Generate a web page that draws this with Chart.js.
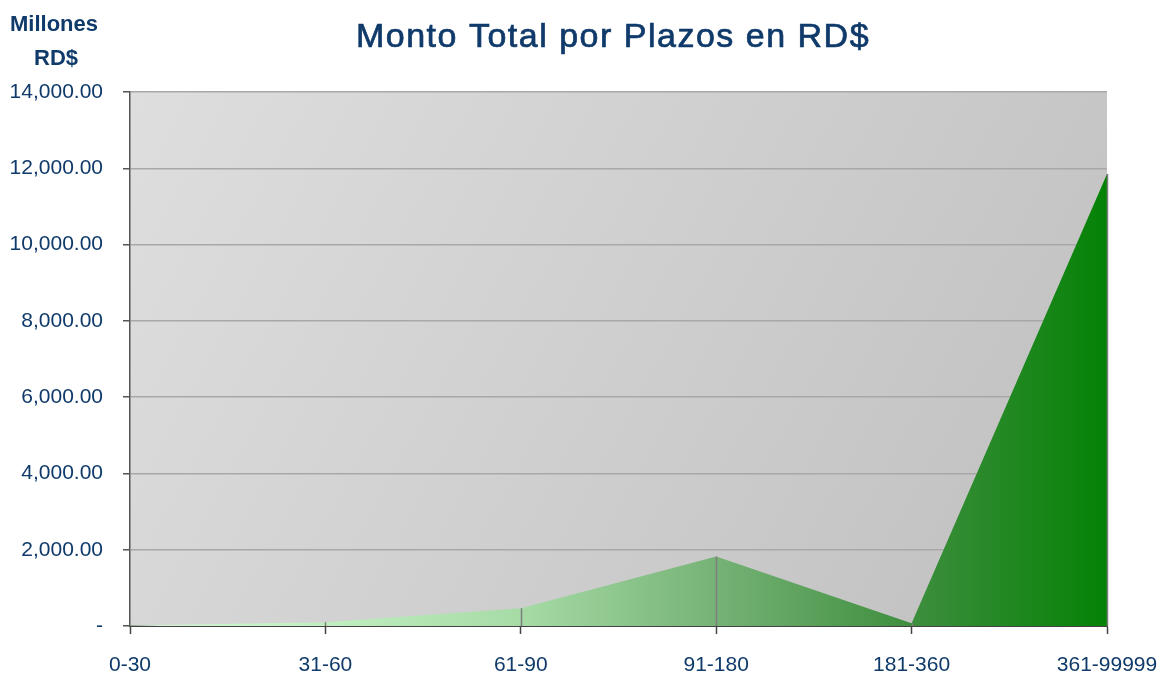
<!DOCTYPE html>
<html lang="es">
<head>
    <meta charset="UTF-8">
    <title>Monto Total por Plazos en RD$</title>
    <style>
        body {
            margin: 0;
            padding: 0;
            background-color: #ffffff;
        }
        #wrap {
            width: 1163px;
            height: 676px;
        }
    </style>
</head>
<body>
    <div id="wrap">
        <canvas id="plazosChart" width="1163" height="676"></canvas>
    </div>

    <script src="https://cdn.jsdelivr.net/npm/chart.js"></script>
    <script>
        // Datos (millones RD$)
        const plazos = ['0-30', '31-60', '61-90', '91-180', '181-360', '361-99999'];
        const montos = [10, 100, 465, 1820, 75, 11850];
        const yTicks = [0, 2000, 4000, 6000, 8000, 10000, 12000, 14000];

        const azul = '#0f3a6a';
        const fuente = "Arial, 'Liberation Sans', sans-serif";

        function formatoMonto(v) {
            if (v === 0) return '-';
            return v.toLocaleString('en-US', { minimumFractionDigits: 2, maximumFractionDigits: 2 });
        }

        // fondo gris degradado del area de trazado
        const fondoPlot = {
            id: 'fondoPlot',
            beforeDraw(chart) {
                const { ctx, chartArea: a } = chart;
                const g = ctx.createLinearGradient(a.left, a.top, a.right, a.bottom);
                g.addColorStop(0, '#dedede');
                g.addColorStop(1, '#bfbfbf');
                ctx.save();
                ctx.fillStyle = g;
                ctx.fillRect(a.left, a.top, a.right - a.left, a.bottom - a.top);
                ctx.restore();
            }
        };

        // lineas de caida desde cada punto al eje
        const lineasCaida = {
            id: 'lineasCaida',
            afterDatasetsDraw(chart) {
                const { ctx, chartArea: a } = chart;
                const puntos = chart.getDatasetMeta(0).data;
                ctx.save();
                ctx.strokeStyle = '#7d7d7d';
                ctx.lineWidth = 1.5;
                puntos.forEach(p => {
                    ctx.beginPath();
                    ctx.moveTo(Math.round(p.x) + 0.5, p.y);
                    ctx.lineTo(Math.round(p.x) + 0.5, a.bottom);
                    ctx.stroke();
                });
                ctx.restore();
            }
        };

        // titulo y rotulo de unidades
        const textos = {
            id: 'textos',
            afterDraw(chart) {
                const ctx = chart.ctx;
                ctx.save();
                ctx.fillStyle = azul;
                ctx.strokeStyle = azul;
                ctx.textAlign = 'center';
                ctx.textBaseline = 'alphabetic';
                ctx.font = '34px ' + fuente;
                ctx.letterSpacing = '1.5px';
                ctx.lineWidth = 0.7;
                ctx.fillText('Monto Total por Plazos en RD$', 613, 47);
                ctx.strokeText('Monto Total por Plazos en RD$', 613, 47);
                ctx.letterSpacing = '0px';
                ctx.font = 'bold 22px ' + fuente;
                ctx.fillText('Millones', 54, 31);
                ctx.fillText('RD$', 56, 65);
                ctx.restore();
            }
        };

        const ctx = document.getElementById('plazosChart').getContext('2d');
        const plazosChart = new Chart(ctx, {
            type: 'line',
            data: {
                labels: plazos,
                datasets: [{
                    label: 'Monto',
                    data: montos,
                    fill: 'origin',
                    tension: 0,
                    pointRadius: 0,
                    borderWidth: 0,
                    borderColor: 'rgba(0,0,0,0)',
                    backgroundColor: (c) => {
                        const a = c.chart.chartArea;
                        if (!a) return '#76b276';
                        const g = c.chart.ctx.createLinearGradient(a.left, 0, a.right, 0);
                        g.addColorStop(0, '#d4f7d4');
                        g.addColorStop(0.2, '#c0eec0');
                        g.addColorStop(0.4, '#a6dba6');
                        g.addColorStop(0.6, '#76b276');
                        g.addColorStop(0.8, '#3e8e3e');
                        g.addColorStop(1, '#058205');
                        return g;
                    }
                }]
            },
            options: {
                responsive: false,
                animation: false,
                layout: {
                    padding: { top: 92, right: 56, left: 0, bottom: 0 }
                },
                plugins: {
                    legend: { display: false },
                    title: { display: false },
                    tooltip: { enabled: false }
                },
                scales: {
                    x: {
                        offset: false,
                        afterFit: (s) => {
                            s.height = 50;
                            s.paddingLeft = 0;
                            s.paddingRight = 0;
                        },
                        grid: {
                            offset: false,
                            drawOnChartArea: false,
                            drawTicks: true,
                            tickLength: 8,
                            tickColor: '#444444',
                            tickWidth: 1.5
                        },
                        border: { display: true, color: '#444444', width: 2 },
                        ticks: {
                            color: azul,
                            padding: 19,
                            maxRotation: 0,
                            autoSkip: false,
                            font: { family: fuente, size: 21 }
                        }
                    },
                    y: {
                        min: 0,
                        max: 14000,
                        afterFit: (s) => { s.width = 130; },
                        afterBuildTicks: (s) => { s.ticks = yTicks.map(v => ({ value: v })); },
                        grid: {
                            color: '#a8a8a8',
                            lineWidth: 1.5,
                            tickLength: 7,
                            tickColor: '#555555',
                            tickWidth: 1.5
                        },
                        border: { display: true, color: '#555555', width: 1.5 },
                        ticks: {
                            color: azul,
                            padding: 20,
                            font: { family: fuente, size: 21 },
                            callback: (v) => formatoMonto(v)
                        }
                    }
                }
            },
            plugins: [fondoPlot, lineasCaida, textos]
        });
    </script>
</body>
</html>
